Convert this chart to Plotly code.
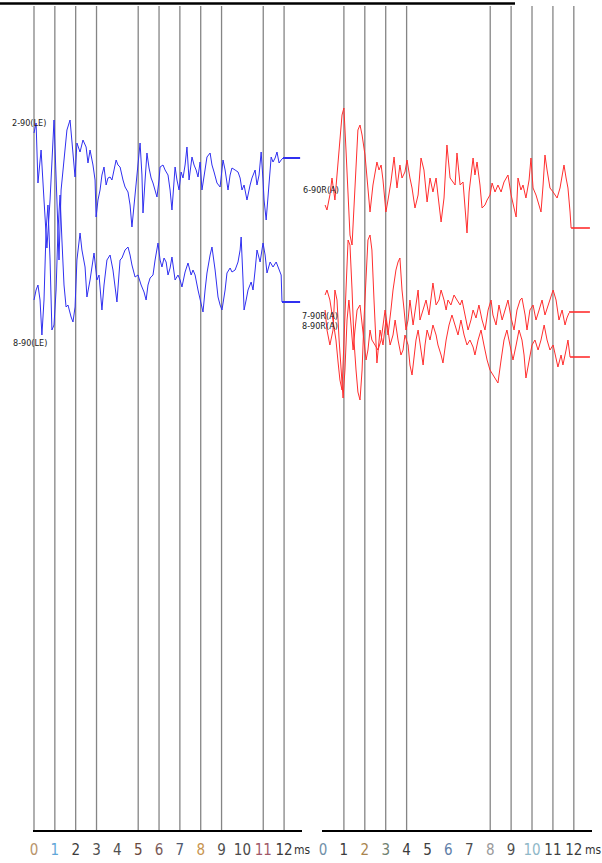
import plotly.graph_objects as go

# ---------------- data (time in ms, amplitude in arbitrary units) ----------------
L1_2_90LE = [(0.00,25),(0.10,35),(0.19,-25),(0.34,8),(0.48,-42),(0.62,-90),(0.77,-42),(0.96,38),(1.10,-42),(1.20,-102),
 (1.30,-32),(1.44,-2),(1.58,28),(1.73,38),(1.87,8),(1.97,-19),(2.06,15),(2.21,6),(2.35,18),(2.50,11),(2.59,-5),(2.69,8),
 (2.83,-7),(2.93,-22),(2.98,-59),(3.07,-42),(3.17,-32),(3.26,-17),(3.36,-9),(3.46,-27),(3.55,-20),(3.65,-19),(3.74,-22),
 (3.84,-12),(3.94,-2),(4.03,-7),(4.13,-9),(4.27,-22),(4.37,-29),(4.51,-34),(4.61,-47),(4.70,-69),(4.80,-47),(4.90,-25),
 (4.99,-2),(5.09,15),(5.18,-17),(5.23,-55),(5.33,-22),(5.42,5),(5.52,-10),(5.62,-20),(5.71,-25),(5.81,-32),(5.90,-39),
 (6.00,-22),(6.05,-9),(6.19,-7),(6.29,-12),(6.43,-17),(6.53,-32),(6.62,-52),(6.77,-9),(6.86,-22),(6.96,-32),(7.06,-14),
 (7.15,-20),(7.25,-7),(7.34,11),(7.44,-22),(7.58,1),(7.68,-7),(7.78,-12),(7.87,-19),(7.97,-4),(8.06,-32),(8.16,-17),
 (8.30,1),(8.45,5),(8.54,-7),(8.64,-14),(8.78,-25),(8.93,-29),(9.07,-2),(9.17,-12),(9.31,-32),(9.41,-17),(9.50,-10),
 (9.65,-12),(9.79,-14),(9.89,-20),(9.98,-32),(10.08,-27),(10.22,-42),(10.37,-27),(10.46,-20),(10.61,-12),(10.70,-27),
 (10.80,-17),(10.90,6),(10.99,-22),(11.04,-42),(11.14,-62),(11.23,-37),(11.38,1),(11.47,-4),(11.57,0),(11.66,6),
 (11.76,-5),(11.86,-2),(11.95,0)]

L2_8_90LE = [(0.00,2),(0.10,12),(0.19,17),(0.29,2),(0.38,-33),(0.48,2),(0.58,72),(0.67,97),(0.77,42),(0.86,-28),(0.96,-23),
 (1.06,12),(1.15,72),(1.25,107),(1.34,62),(1.44,17),(1.54,-5),(1.63,-3),(1.78,-15),(1.87,-20),(1.97,-5),(2.06,42),(2.21,69),
 (2.30,52),(2.45,35),(2.54,5),(2.69,22),(2.78,37),(2.88,49),(3.02,22),(3.12,27),(3.26,-8),(3.36,17),(3.50,42),(3.65,47),
 (3.79,32),(3.89,17),(3.98,0),(4.13,42),(4.22,44),(4.37,52),(4.51,55),(4.61,47),(4.70,37),(4.85,25),(4.99,27),(5.14,17),
 (5.28,10),(5.38,2),(5.47,17),(5.57,24),(5.71,27),(5.81,42),(5.95,59),(6.05,42),(6.14,35),(6.24,44),(6.34,40),(6.43,27),
 (6.53,34),(6.62,45),(6.77,22),(6.91,27),(7.01,22),(7.10,15),(7.25,30),(7.39,39),(7.54,27),(7.63,32),(7.73,27),(7.87,12),
 (7.97,2),(8.11,-10),(8.21,12),(8.30,29),(8.45,47),(8.54,55),(8.69,32),(8.83,5),(8.93,-3),(9.02,-8),(9.17,12),(9.26,29),
 (9.41,34),(9.50,30),(9.65,32),(9.79,40),(9.89,52),(9.94,65),(10.03,22),(10.08,-8),(10.18,2),(10.27,12),(10.42,20),
 (10.51,12),(10.61,32),(10.70,52),(10.85,40),(10.99,59),(11.09,47),(11.18,29),(11.33,40),(11.47,35),(11.62,40),(11.76,32),
 (11.86,27),(11.90,0)]

R1_6_90RA = [(0.10,23),(0.19,18),(0.33,33),(0.43,50),(0.57,28),(0.67,56),(0.81,88),(0.91,113),(1.00,120),(1.10,78),(1.20,28),
 (1.29,-7),(1.39,-17),(1.48,18),(1.58,68),(1.67,98),(1.77,103),(1.87,93),(2.01,73),(2.15,36),(2.25,16),(2.39,43),(2.58,66),
 (2.68,58),(2.78,63),(2.87,48),(3.01,16),(3.11,28),(3.25,46),(3.40,71),(3.54,40),(3.68,63),(3.78,50),(3.92,56),(4.02,68),
 (4.16,50),(4.26,40),(4.40,20),(4.55,33),(4.69,70),(4.83,58),(4.98,26),(5.12,50),(5.26,36),(5.41,50),(5.50,33),(5.65,6),
 (5.79,30),(5.93,83),(6.08,50),(6.22,46),(6.32,43),(6.41,75),(6.56,43),(6.70,46),(6.89,-5),(6.99,36),(7.18,70),(7.27,53),
 (7.37,66),(7.51,43),(7.61,20),(7.75,23),(7.85,28),(7.99,33),(8.09,45),(8.23,36),(8.37,43),(8.52,36),(8.66,46),(8.85,53),
 (9.00,33),(9.14,20),(9.24,11),(9.33,50),(9.47,38),(9.57,43),(9.71,30),(9.86,48),(9.95,70),(10.05,40),(10.19,33),(10.29,26),
 (10.43,16),(10.53,43),(10.62,73),(10.72,58),(10.86,40),(11.01,36),(11.20,30),(11.34,40),(11.53,63),(11.63,50),(11.72,40),
 (11.82,16),(11.87,0)]

R2_7_90RA = [(0.10,17),(0.19,22),(0.33,12),(0.48,-8),(0.62,-28),(0.72,-50),(0.81,-68),(0.91,-78),(1.00,-38),(1.10,22),(1.20,72),
 (1.29,67),(1.39,22),(1.48,-28),(1.58,-58),(1.67,-80),(1.77,-88),(1.87,-58),(1.96,-8),(2.06,42),(2.15,72),(2.25,77),(2.34,62),
 (2.44,12),(2.54,-28),(2.58,-51),(2.73,-18),(2.87,-33),(3.01,-8),(3.11,-23),(3.25,2),(3.35,22),(3.49,42),(3.59,50),(3.68,54),
 (3.78,22),(3.88,2),(3.97,-18),(4.07,-8),(4.16,12),(4.31,-13),(4.45,7),(4.55,22),(4.64,-8),(4.79,2),(4.93,12),(5.07,-3),
 (5.17,12),(5.26,29),(5.41,7),(5.55,12),(5.65,22),(5.79,12),(5.89,2),(5.98,12),(6.12,7),(6.27,17),(6.41,12),(6.56,7),(6.65,12),
 (6.79,-3),(6.94,-18),(7.08,-8),(7.18,2),(7.32,-6),(7.46,7),(7.61,-8),(7.75,-18),(7.90,2),(8.04,12),(8.13,-3),(8.28,-13),
 (8.42,7),(8.57,-8),(8.71,2),(8.85,12),(9.00,-6),(9.14,-18),(9.28,2),(9.43,12),(9.52,14),(9.67,-3),(9.76,-18),(9.90,2),
 (10.05,7),(10.19,-8),(10.34,2),(10.48,12),(10.62,-3),(10.77,7),(10.91,17),(11.01,22),(11.15,12),(11.29,-8),(11.44,2),
 (11.58,-13),(11.67,-6),(11.77,-1)]

R3_8_90RA = [(0.10,47),(0.19,27),(0.33,12),(0.48,27),(0.57,67),(0.67,57),(0.77,17),(0.86,-13),(0.96,-41),(1.05,-13),(1.15,37),
 (1.24,57),(1.34,27),(1.44,7),(1.53,27),(1.63,47),(1.77,52),(1.91,27),(2.06,-3),(2.15,7),(2.25,27),(2.34,17),(2.49,12),(2.63,7),
 (2.78,17),(2.87,32),(2.97,47),(3.11,27),(3.21,12),(3.35,22),(3.45,37),(3.59,17),(3.73,2),(3.83,7),(3.92,22),(4.07,12),(4.16,-8),
 (4.26,-18),(4.35,2),(4.45,17),(4.55,27),(4.69,7),(4.79,-8),(4.88,12),(4.98,27),(5.12,17),(5.26,32),(5.41,22),(5.50,12),(5.65,2),
 (5.74,-6),(5.89,17),(6.03,32),(6.17,42),(6.32,32),(6.46,22),(6.60,37),(6.75,22),(6.89,12),(7.03,17),(7.18,10),(7.27,2),(7.42,17),
 (7.56,27),(7.70,12),(7.85,-3),(7.99,-13),(8.13,-18),(8.28,-23),(8.37,-26),(8.52,-3),(8.66,17),(8.80,27),(8.95,12),(9.09,-3),
 (9.24,12),(9.38,27),(9.52,17),(9.62,2),(9.71,-21),(9.86,-3),(10.00,12),(10.14,17),(10.29,7),(10.43,17),(10.58,32),(10.72,17),
 (10.86,7),(11.01,12),(11.15,-3),(11.24,-10),(11.39,2),(11.48,-8),(11.63,7),(11.72,17),(11.82,0)]

# channel names, panel, baseline level
CHANNELS = [
    ("2-90(LE)", "left", 672, L1_2_90LE),
    ("8-90(LE)", "left", 528, L2_8_90LE),
    ("6-90R(A)", "right", 602, R1_6_90RA),
    ("7-90R(A)", "right", 518, R2_7_90RA),
    ("8-90R(A)", "right", 473, R3_8_90RA),
]
MARKER_END_MS = 12.77

TICK_VALUES = list(range(13))
TICK_LABELS = [str(v) for v in TICK_VALUES]
LEFT_TICK_COLORS = ["#b8946a", "#5fa6d8", "#3c3c3c", "#505050", "#505050", "#6b4a3c", "#7a5a58",
                    "#505a70", "#c8944e", "#505050", "#4a4a4a", "#a05868", "#3c3c3c"]
RIGHT_TICK_COLORS = ["#7090a8", "#3c3c3c", "#a8844e", "#708070", "#3c3c3c", "#404040", "#6080a8",
                     "#505050", "#9a9a9a", "#505050", "#90b8c8", "#404040", "#3c3c3c"]
LEFT_GRID = [0, 1, 2, 3, 5, 6, 7, 8, 9, 11, 12]
RIGHT_GRID = [1, 2, 3, 4, 8, 9, 10, 11, 12]

W, H = 602, 863
PANEL_COLORS = {"left": "#3030f0", "right": "#ff2e2e"}
XREF = {"left": "x", "right": "x2"}

fig = go.Figure()
for name, panel, level, pairs in CHANNELS:
    t = [p[0] for p in pairs]
    a = [level + p[1] for p in pairs]
    fig.add_trace(go.Scatter(x=t, y=a, mode="lines", xaxis=XREF[panel], yaxis="y",
                             line=dict(color=PANEL_COLORS[panel], width=1), hoverinfo="skip"))
    fig.add_trace(go.Scatter(x=[t[-1], MARKER_END_MS], y=[level, level], mode="lines",
                             xaxis=XREF[panel], yaxis="y",
                             line=dict(color=PANEL_COLORS[panel], width=2 if panel == "left" else 1.6),
                             hoverinfo="skip"))

# vertical grid lines
for g in LEFT_GRID:
    fig.add_shape(type="line", xref="x", yref="y", x0=g, x1=g, y0=0, y1=824,
                  line=dict(color="#858585", width=1.3), layer="below")
for g in RIGHT_GRID:
    fig.add_shape(type="line", xref="x2", yref="y", x0=g, x1=g, y0=0, y1=824,
                  line=dict(color="#858585", width=1.3), layer="below")

# rule at the very top (remnant of the page above)
fig.add_shape(type="line", xref="paper", yref="paper", x0=0, x1=515 / W, y0=1 - 3.5 / H, y1=1 - 3.5 / H,
              line=dict(color="black", width=2.5))

NARROW = "Liberation Sans Narrow, DejaVu Sans Condensed, Arial Narrow, Liberation Sans, sans-serif"

# channel labels
LABEL_POS = {"2-90(LE)": (29, 123), "8-90(LE)": (30, 343), "6-90R(A)": (321, 190),
             "7-90R(A)": (320, 316), "8-90R(A)": (320, 326)}
for name, panel, level, pairs in CHANNELS:
    px, py = LABEL_POS[name]
    fig.add_annotation(text=name, x=px / W, y=1 - py / H, xref="paper", yref="paper",
                       showarrow=False, font=dict(family=NARROW, size=9, color="#222222"),
                       xanchor="center", yanchor="middle")

# "ms" unit labels
for xp in (302, 593):
    fig.add_annotation(text="ms", x=xp / W, y=1 - 850 / H, xref="paper", yref="paper", showarrow=False,
                       font=dict(family=NARROW, size=12, color="#333333"), xanchor="center", yanchor="middle")

def ticktext(colors):
    return [f"<span style='color:{c}'>{s}</span>" for s, c in zip(TICK_LABELS, colors)]

axis_common = dict(showgrid=False, zeroline=False, showline=True, linecolor="black", linewidth=1.5,
                   ticks="outside", ticklen=5, tickcolor="rgba(0,0,0,0)", tickangle=0, automargin=False,
                   tickfont=dict(family=NARROW, size=15, color="#404040"), anchor="y", fixedrange=True)

fig.update_layout(
    width=W, height=H, margin=dict(l=0, r=0, t=0, b=0),
    paper_bgcolor="white", plot_bgcolor="white", showlegend=False,
    xaxis=dict(domain=[33 / W, 302 / W], range=[-0.048, 12.86],
               tickvals=TICK_VALUES, ticktext=ticktext(LEFT_TICK_COLORS), **axis_common),
    xaxis2=dict(domain=[322 / W, 592 / W], range=[-0.048, 12.87],
                tickvals=TICK_VALUES, ticktext=ticktext(RIGHT_TICK_COLORS), **axis_common),
    yaxis=dict(domain=[33 / H, 1], range=[0, 830], visible=False, fixedrange=True, automargin=False),
)

fig.write_html("out.html", config={"displayModeBar": False},
               post_script="document.body.style.margin='0';document.body.style.overflow='hidden';")
